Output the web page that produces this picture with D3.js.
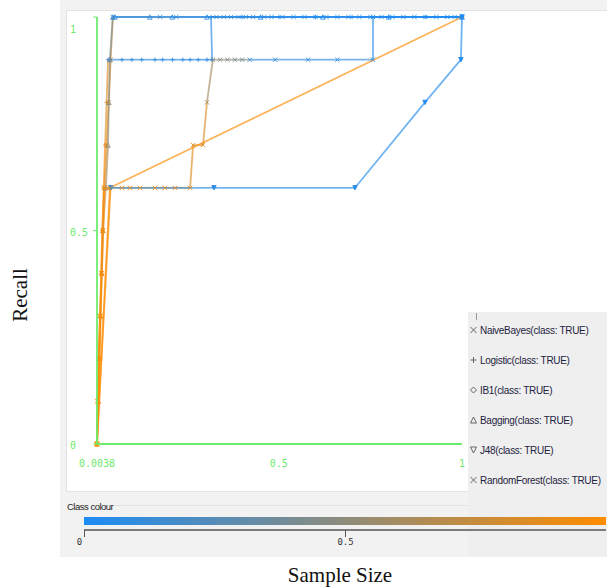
<!DOCTYPE html>
<html>
<head>
<meta charset="utf-8">
<script src="https://cdn.jsdelivr.net/npm/d3@7"></script>
<style>
  body { margin: 0; background: #ffffff; }
  svg { display: block; }
</style>
</head>
<body>
<svg id="chart" width="607" height="588"></svg>
<script>
// Threshold curves: each point is [sample size, recall, threshold]
const naiveBayes = [
  [0.0038, 0, 1], [0.006, 0.1, 0.99], [0.010, 0.2, 0.98], [0.013, 0.3, 0.97],
  [0.016, 0.4, 0.96], [0.019, 0.5, 0.95], [0.024, 0.6, 0.93], [0.030, 0.7, 0.9],
  [0.036, 0.8, 0.85], [0.041, 0.9, 0.8], [0.047, 1, 0.2], [0.176, 1, 0.15],
  [0.22, 1, 0.14], [0.33, 1, 0.13], [0.35, 1, 0.12], [0.37, 1, 0.12],
  [0.39, 1, 0.11], [0.41, 1, 0.11], [0.43, 1, 0.1], [0.46, 1, 0.1],
  [0.48, 1, 0.09], [0.51, 1, 0.09], [0.54, 1, 0.08], [0.57, 1, 0.08],
  [0.60, 1, 0.07], [0.63, 1, 0.07], [0.66, 1, 0.06], [0.69, 1, 0.06],
  [0.72, 1, 0.05], [0.75, 1, 0.05], [0.78, 1, 0.04], [0.81, 1, 0.04],
  [0.84, 1, 0.03], [0.87, 1, 0.03], [0.90, 1, 0.02], [0.93, 1, 0.02],
  [0.96, 1, 0.01], [0.98, 1, 0.01], [1, 1, 0]
];
const logistic = [
  [0.0038, 0, 1], [0.006, 0.1, 0.99], [0.009, 0.2, 0.98], [0.012, 0.3, 0.97],
  [0.015, 0.4, 0.96], [0.018, 0.5, 0.95], [0.022, 0.6, 0.92], [0.026, 0.7, 0.88],
  [0.030, 0.8, 0.84], [0.034, 0.9, 0.12], [0.039, 0.9, 0.12], [0.072, 0.9, 0.11],
  [0.099, 0.9, 0.11], [0.126, 0.9, 0.1], [0.162, 0.9, 0.1], [0.183, 0.9, 0.09],
  [0.21, 0.9, 0.09], [0.238, 0.9, 0.08], [0.258, 0.9, 0.08], [0.28, 0.9, 0.07],
  [0.304, 0.9, 0.07], [0.318, 0.9, 0.06], [0.315, 1, 0.05], [0.40, 1, 0.04],
  [0.50, 1, 0.03], [0.60, 1, 0.03], [0.70, 1, 0.02], [0.80, 1, 0.02],
  [0.90, 1, 0.01], [1, 1, 0]
];
const ib1 = [
  [0.0038, 0, 1], [0.039, 0.6, 0.98], [1, 1, 0.96]
];
const bagging = [
  [0.0038, 0, 1], [0.008, 0.1, 0.97], [0.011, 0.2, 0.95], [0.014, 0.3, 0.93],
  [0.017, 0.4, 0.9], [0.020, 0.5, 0.85], [0.028, 0.6, 0.6], [0.034, 0.7, 0.5],
  [0.036, 0.8, 0.45], [0.039, 0.9, 0.4], [0.047, 1, 0.1], [0.053, 1, 0.09],
  [0.148, 1, 0.08], [0.209, 1, 0.07], [0.304, 1, 0.05], [0.45, 1, 0.03],
  [0.62, 1, 0.02], [0.80, 1, 0.01], [1, 1, 0]
];
const j48 = [
  [0.0038, 0, 1], [0.041, 0.6, 0.08], [0.323, 0.6, 0.06], [0.708, 0.6, 0.05],
  [0.899, 0.8, 0.03], [0.997, 0.9, 0.02], [1, 1, 0]
];
const randomForest = [
  [0.0038, 0, 1], [0.005, 0.1, 0.98], [0.0075, 0.2, 0.97], [0.012, 0.3, 0.96],
  [0.017, 0.4, 0.95], [0.021, 0.5, 0.94], [0.023, 0.6, 0.93], [0.039, 0.6, 0.92],
  [0.072, 0.6, 0.91], [0.094, 0.6, 0.9], [0.121, 0.6, 0.9], [0.162, 0.6, 0.89],
  [0.189, 0.6, 0.88], [0.217, 0.6, 0.88], [0.258, 0.6, 0.87], [0.266, 0.7, 0.86],
  [0.293, 0.7, 0.85], [0.304, 0.8, 0.6], [0.32, 0.9, 0.5], [0.34, 0.9, 0.48],
  [0.36, 0.9, 0.46], [0.38, 0.9, 0.44], [0.40, 0.9, 0.42], [0.421, 0.9, 0.12],
  [0.49, 0.9, 0.11], [0.58, 0.9, 0.1], [0.66, 0.9, 0.09], [0.757, 0.9, 0.06],
  [0.757, 1, 0.04], [1, 1, 0]
];

const seriesNames = [
  "NaiveBayes(class: TRUE)", "Logistic(class: TRUE)", "IB1(class: TRUE)",
  "Bagging(class: TRUE)", "J48(class: TRUE)", "RandomForest(class: TRUE)"
];
const seriesSymbols = ["times", "plus", "diamond", "triangle", "triangleDown", "times"];

const xTicks = [0.0038, 0.5, 1];
const xTickLabels = ["0.0038", "0.5", "1"];
const yTicks = [0, 0.5, 1];
const yTickLabels = ["0", "0.5", "1"];
const colourTicks = [0, 0.5];
const colourTickLabels = ["0", "0.5"];

const allSeries = [naiveBayes, logistic, ib1, bagging, j48, randomForest];
// order in which the connecting lines are painted (later ones sit on top)
const lineOrder = [5, 2, 0, 3, 1, 4];

const svg = d3.select("#chart");
const green = "#6cec6c";
const mono = "'DejaVu Sans Mono', monospace";

// threshold colour: blue at 0 through olive grey to orange at 1
const colour = d3.scaleLinear().domain([0, 1]).range(["#1c8cf5", "#ff8c00"]).interpolate(d3.interpolateRgb);

const x = d3.scaleLinear().domain([0.0038, 1]).range([97, 462]);
const y = d3.scaleLinear().domain([0, 1]).range([444, 17]);

// panels
svg.append("rect").attr("x", 60).attr("y", 0).attr("width", 547).attr("height", 557).attr("fill", "#f2f2f2");
svg.append("rect").attr("x", 66.5).attr("y", 10.5).attr("width", 545).attr("height", 481)
  .attr("fill", "#ffffff").attr("stroke", "#e3e3e3");

// marker shapes
function symbolPath(kind, s) {
  switch (kind) {
    case "times": return `M${-s},${-s}L${s},${s}M${-s},${s}L${s},${-s}`;
    case "plus": return `M${-s},0L${s},0M0,${-s}L0,${s}`;
    case "diamond": return `M0,${-s}L${s},0L0,${s}L${-s},0Z`;
    case "triangle": return `M0,${-s}L${s},${s}L${-s},${s}Z`;
    case "triangleDown": return `M${-s},${-s}L${s},${-s}L0,${s}Z`;
  }
}

// curves: connecting lines first, then the markers
const plot = svg.append("g");
lineOrder.forEach(si => {
  plot.append("g").selectAll("line").data(d3.pairs(allSeries[si])).join("line")
    .attr("x1", d => x(d[0][0])).attr("y1", d => y(d[0][1]))
    .attr("x2", d => x(d[1][0])).attr("y2", d => y(d[1][1]))
    .attr("stroke", d => colour(d[0][2]))
    .attr("stroke-opacity", 0.65)
    .attr("stroke-width", 1.8);
});
allSeries.forEach((pts, si) => {
  plot.append("g").selectAll("path").data(pts).join("path")
    .attr("transform", d => `translate(${x(d[0])},${y(d[1])})`)
    .attr("d", symbolPath(seriesSymbols[si], 2.2))
    .attr("fill", seriesSymbols[si] === "triangleDown" ? (d => colour(d[2])) : "none")
    .attr("stroke", d => colour(d[2]))
    .attr("stroke-opacity", 0.85)
    .attr("stroke-width", 1);
});

// axes in green
const axes = svg.append("g");
axes.append("line").attr("x1", x(0.0038)).attr("x2", x(0.0038)).attr("y1", y(1)).attr("y2", y(0))
  .attr("stroke", green).attr("stroke-width", 1.8);
axes.append("line").attr("x1", x(0.0038)).attr("x2", x(1)).attr("y1", y(0)).attr("y2", y(0))
  .attr("stroke", green).attr("stroke-width", 1.8);
axes.selectAll(".ytick").data(yTicks).join("line").attr("class", "ytick")
  .attr("x1", x(0.0038) - 4).attr("x2", x(0.0038)).attr("y1", d => y(d)).attr("y2", d => y(d))
  .attr("stroke", green).attr("stroke-width", 1);
axes.selectAll(".ylab").data(yTicks).join("text").attr("class", "ylab")
  .attr("x", 70).attr("y", d => Math.max(y(d) + 5, 33))
  .attr("font-family", mono).attr("font-size", 10).attr("fill", green)
  .text((d, i) => yTickLabels[i]);
axes.selectAll(".xlab").data(xTicks).join("text").attr("class", "xlab")
  .attr("x", d => x(d)).attr("y", 467).attr("text-anchor", "middle")
  .attr("font-family", mono).attr("font-size", 10).attr("fill", green)
  .text((d, i) => xTickLabels[i]);

// legend
const legend = svg.append("g");
legend.append("rect").attr("x", 468).attr("y", 312).attr("width", 139).attr("height", 245).attr("fill", "#efefef");
legend.append("line").attr("x1", 476.5).attr("x2", 476.5).attr("y1", 313).attr("y2", 320).attr("stroke", "#999");
const items = legend.selectAll(".item").data(seriesNames).join("g").attr("class", "item")
  .attr("transform", (d, i) => `translate(470,${330 + i * 30})`);
items.append("path").attr("transform", "translate(3.5,0)")
  .attr("d", (d, i) => symbolPath(seriesSymbols[i], 3))
  .attr("fill", "none").attr("stroke", "#666").attr("stroke-width", 1);
items.append("text").attr("x", 10).attr("y", 4)
  .attr("font-family", "'Liberation Sans', Arial, sans-serif").attr("font-size", 10)
  .attr("letter-spacing", -0.3)
  .attr("fill", "#1e2340").text(d => d);

// class colour bar
const bar = svg.append("g");
bar.append("text").attr("x", 67).attr("y", 510).attr("font-family", "'Liberation Sans', Arial, sans-serif")
  .attr("font-size", 9.5).attr("letter-spacing", -0.5).attr("fill", "#222").text("Class colour");
bar.append("line").attr("x1", 114).attr("x2", 467).attr("y1", 505.5).attr("y2", 505.5).attr("stroke", "#e2e2e2");
const cx = d3.scaleLinear().domain([0, 1]).range([84, 606]);
const grad = svg.append("defs").append("linearGradient").attr("id", "classGrad");
grad.selectAll("stop").data([0, 0.25, 0.5, 0.75, 1]).join("stop")
  .attr("offset", d => d).attr("stop-color", d => colour(d));
bar.append("rect").attr("x", cx(0)).attr("y", 517).attr("width", cx(1) - cx(0)).attr("height", 8)
  .attr("fill", "url(#classGrad)");
const cAxis = bar.append("g").attr("transform", "translate(0,530)")
  .call(d3.axisBottom(cx).tickValues(colourTicks).tickSize(7).tickFormat((d, i) => colourTickLabels[i]));
cAxis.select(".domain").attr("stroke", "#555").attr("stroke-width", 1.5).attr("d", `M${cx(0)},0H${cx(1)}`);
cAxis.selectAll(".tick line").attr("stroke", "#555");
cAxis.selectAll(".tick text").attr("font-family", mono).attr("font-size", 9).attr("fill", "#333")
  .attr("dx", (d, i) => i === 0 ? -5 : 0).attr("dy", 5);

// titles
svg.append("text").attr("x", 340).attr("y", 582).attr("text-anchor", "middle")
  .attr("font-family", "'Liberation Serif', 'Times New Roman', serif").attr("font-size", 21)
  .attr("fill", "#111").text("Sample Size");
svg.append("text").attr("transform", "translate(27,295) rotate(-90)").attr("text-anchor", "middle")
  .attr("font-family", "'Liberation Serif', 'Times New Roman', serif").attr("font-size", 21)
  .attr("fill", "#111").text("Recall");
</script>
</body>
</html>
